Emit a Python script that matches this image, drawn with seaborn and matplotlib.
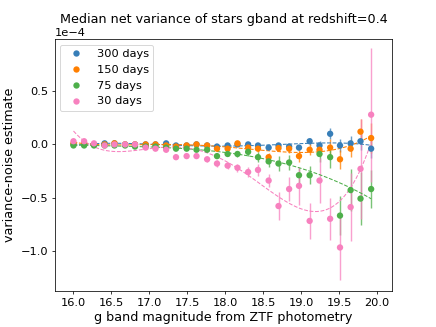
import numpy as np
import pandas as pd
import seaborn as sns
from matplotlib import pyplot as plt

# g band magnitude bins
mag = [16.00, 16.14, 16.27, 16.41, 16.54, 16.68, 16.81, 16.95, 17.08, 17.22,
       17.35, 17.49, 17.62, 17.76, 17.89, 18.03, 18.16, 18.30, 18.43, 18.57,
       18.70, 18.84, 18.97, 19.11, 19.24, 19.38, 19.51, 19.65, 19.78, 19.92]

# median net variance, in units of 1e-4
var_300 = [0.00, 0.00, 0.00, 0.01, 0.01, 0.00, 0.00, 0.00, 0.00, 0.01,
           -0.01, -0.01, 0.00, -0.01, -0.02, -0.01, 0.00, 0.00, -0.01, -0.03,
           -0.01, -0.02, -0.03, 0.03, -0.01, 0.10, -0.01, 0.01, 0.03, -0.04]
var_150 = [0.01, 0.01, 0.00, 0.00, 0.01, 0.00, 0.00, 0.00, 0.00, -0.01,
           -0.02, -0.01, 0.00, -0.01, -0.04, -0.04, 0.01, -0.03, -0.04, -0.12,
           -0.035, -0.04, -0.11, -0.05, -0.05, -0.03, -0.14, -0.04, 0.12, 0.06]
var_75 = [-0.01, -0.01, -0.01, -0.01, -0.01, -0.01, -0.02, -0.02, -0.02, -0.03,
          -0.04, -0.04, -0.05, -0.05, -0.11, -0.09, -0.09, -0.07, -0.12, -0.16,
          -0.18, -0.17, -0.29, -0.29, -0.09, -0.12, -0.67, -0.43, -0.51, -0.42]
var_30 = [0.03, 0.03, 0.01, -0.01, 0.00, 0.00, 0.00, -0.03, -0.04, -0.05,
          -0.12, -0.11, -0.11, -0.14, -0.18, -0.20, -0.22, -0.26, -0.24, -0.34,
          -0.58, -0.42, -0.39, -0.72, -0.34, -0.70, -0.97, -0.59, -0.23, 0.28]

# errors, in units of 1e-4
err_300 = [0.005, 0.005, 0.005, 0.005, 0.005, 0.005, 0.005, 0.005, 0.005, 0.006,
           0.006, 0.007, 0.007, 0.008, 0.009, 0.01, 0.01, 0.012, 0.014, 0.016,
           0.02, 0.022, 0.025, 0.035, 0.04, 0.05, 0.06, 0.07, 0.08, 0.09]
err_150 = [0.005, 0.005, 0.005, 0.005, 0.006, 0.006, 0.006, 0.007, 0.008, 0.009,
           0.01, 0.011, 0.012, 0.014, 0.016, 0.018, 0.02, 0.025, 0.03, 0.04,
           0.03, 0.04, 0.055, 0.05, 0.06, 0.08, 0.09, 0.08, 0.12, 0.14]
err_75 = [0.006, 0.006, 0.006, 0.006, 0.006, 0.007, 0.007, 0.008, 0.009, 0.01,
          0.012, 0.013, 0.015, 0.017, 0.02, 0.02, 0.025, 0.04, 0.05, 0.05,
          0.07, 0.07, 0.07, 0.085, 0.08, 0.10, 0.18, 0.20, 0.25, 0.18]
err_30 = [0.01, 0.01, 0.01, 0.01, 0.012, 0.012, 0.014, 0.015, 0.016, 0.018,
          0.02, 0.02, 0.02, 0.03, 0.03, 0.03, 0.04, 0.05, 0.06, 0.06,
          0.13, 0.11, 0.18, 0.17, 0.21, 0.20, 0.31, 0.32, 0.47, 0.63]

labels = ['300 days', '150 days', '75 days', '30 days']
colors = ['#377eb8', '#ff7f00', '#4daf4a', '#f781bf']
scale = 1e-4

series = [var_300, var_150, var_75, var_30]
errors = [err_300, err_150, err_75, err_30]
frames = []
for lab, v, e in zip(labels, series, errors):
    frames.append(pd.DataFrame({'mag': mag,
                                'var': np.array(v) * scale,
                                'err': np.array(e) * scale,
                                'window': lab}))
df = pd.concat(frames, ignore_index=True)

fig, ax = plt.subplots(figsize=(6.4, 4.8), dpi=68.125)

for lab, col in zip(labels, colors):
    d = df[df['window'] == lab]
    ax.errorbar(d['mag'], d['var'], yerr=d['err'], fmt='none',
                ecolor=col, alpha=0.75, lw=1.5, zorder=1)
    # polynomial fit through each series
    sns.regplot(data=d, x='mag', y='var', order=4, scatter=False, ci=None,
                color=col, line_kws={'ls': '--', 'lw': 1.1}, ax=ax)

sns.scatterplot(data=df, x='mag', y='var', hue='window', hue_order=labels,
                palette=dict(zip(labels, colors)), s=45, linewidth=0,
                zorder=3, ax=ax)

handles, labs = ax.get_legend_handles_labels()
ax.legend(handles[-4:], labs[-4:], loc='upper left', fontsize=12)

ax.set_xlim(15.75, 20.2)
ax.set_ylim(-1.38e-4, 0.99e-4)
ax.ticklabel_format(axis='y', style='sci', scilimits=(0, 0))
ax.yaxis.get_offset_text().set_fontsize(12)
ax.tick_params(labelsize=12)
ax.set_xlabel('g band magnitude from ZTF photometry', fontsize=13.5)
ax.set_ylabel('variance-noise estimate', fontsize=13.5)
ax.set_title('Median net variance of stars gband at redshift=0.4', fontsize=13.5)

fig.savefig('out.png')
